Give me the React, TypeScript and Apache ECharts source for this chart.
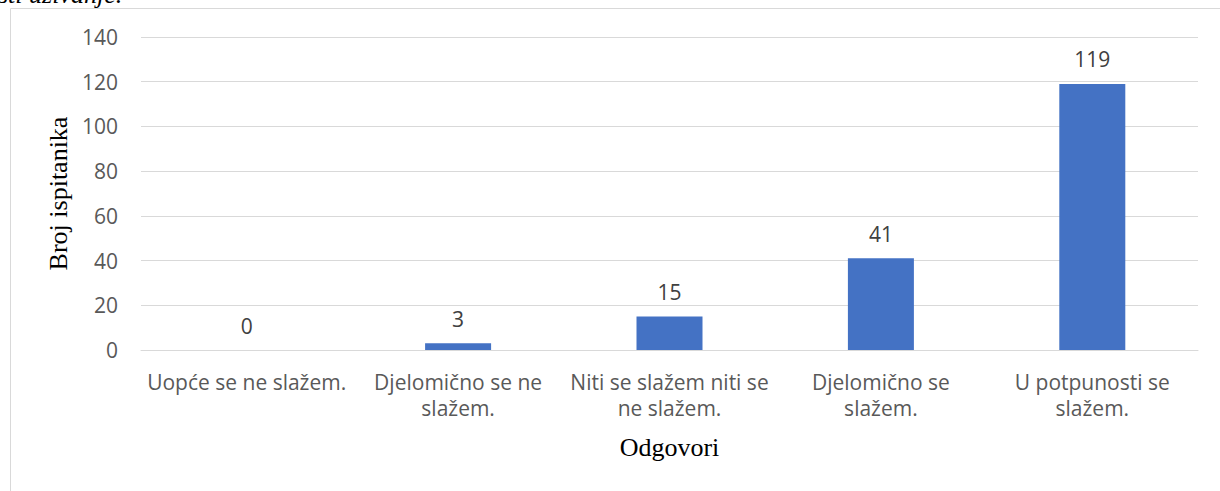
import React, { useEffect, useRef } from "react";
import * as echarts from "echarts";

const categories = [
  "Uopće se ne slažem.",
  "Djelomično se ne\nslažem.",
  "Niti se slažem niti se\nne slažem.",
  "Djelomično se\nslažem.",
  "U potpunosti se\nslažem.",
];
const values = [0, 3, 15, 41, 119];
const yMin = 0;
const yMax = 140;
const yInterval = 20;
const yAxisTitle = "Broj ispitanika";
const xAxisTitle = "Odgovori";
const captionFragment = "sti uživanje.";

export default function App() {
  const ref = useRef<HTMLDivElement>(null);
  useEffect(() => {
    if (!ref.current) return;
    const chart = echarts.init(ref.current, undefined, { renderer: "svg" });
    const sans = "'Open Sans', sans-serif";
    const serif = "'Liberation Serif', 'Times New Roman', serif";
    chart.setOption({
      animation: false,
      backgroundColor: "#ffffff",
      graphic: [
        {
          type: "rect",
          shape: { x: 10.5, y: 8.5, width: 1400, height: 700 },
          style: { fill: "none", stroke: "#d9d9d9", lineWidth: 1 },
          silent: true,
        },
        {
          type: "text",
          x: -2,
          y: 7,
          style: {
            text: captionFragment,
            font: "italic 26px 'Liberation Serif', serif",
            fill: "#000000",
            verticalAlign: "bottom",
          },
          silent: true,
        },
      ],
      grid: { left: 141, right: 22, top: 37, bottom: 141, containLabel: false },
      xAxis: {
        type: "category",
        data: categories,
        name: xAxisTitle,
        nameLocation: "middle",
        nameGap: 84,
        nameTextStyle: { fontFamily: serif, fontSize: 26, color: "#000000" },
        axisLine: { show: true, lineStyle: { color: "#d9d9d9", width: 1 } },
        axisTick: { show: false },
        axisLabel: {
          interval: 0,
          fontFamily: sans,
          fontSize: 21,
          lineHeight: 26,
          color: "#595959",
          margin: 19,
        },
      },
      yAxis: {
        type: "value",
        min: yMin,
        max: yMax,
        interval: yInterval,
        name: yAxisTitle,
        nameLocation: "middle",
        nameGap: 68,
        nameRotate: 90,
        nameTextStyle: { fontFamily: serif, fontSize: 26, color: "#000000" },
        axisLine: { show: false },
        axisTick: { show: false },
        splitLine: { lineStyle: { color: "#d9d9d9", width: 1 } },
        axisLabel: { fontFamily: sans, fontSize: 21, color: "#595959", margin: 23 },
      },
      series: [
        {
          type: "bar",
          data: values,
          barWidth: 66,
          itemStyle: { color: "#4472C4" },
          label: {
            show: true,
            position: "top",
            distance: 14,
            fontFamily: sans,
            fontSize: 21,
            color: "#404040",
          },
        },
      ],
    });
    return () => chart.dispose();
  }, []);
  return (
    <div
      ref={ref}
      style={{ position: "absolute", left: 0, top: 0, width: 1220, height: 491 }}
    />
  );
}
